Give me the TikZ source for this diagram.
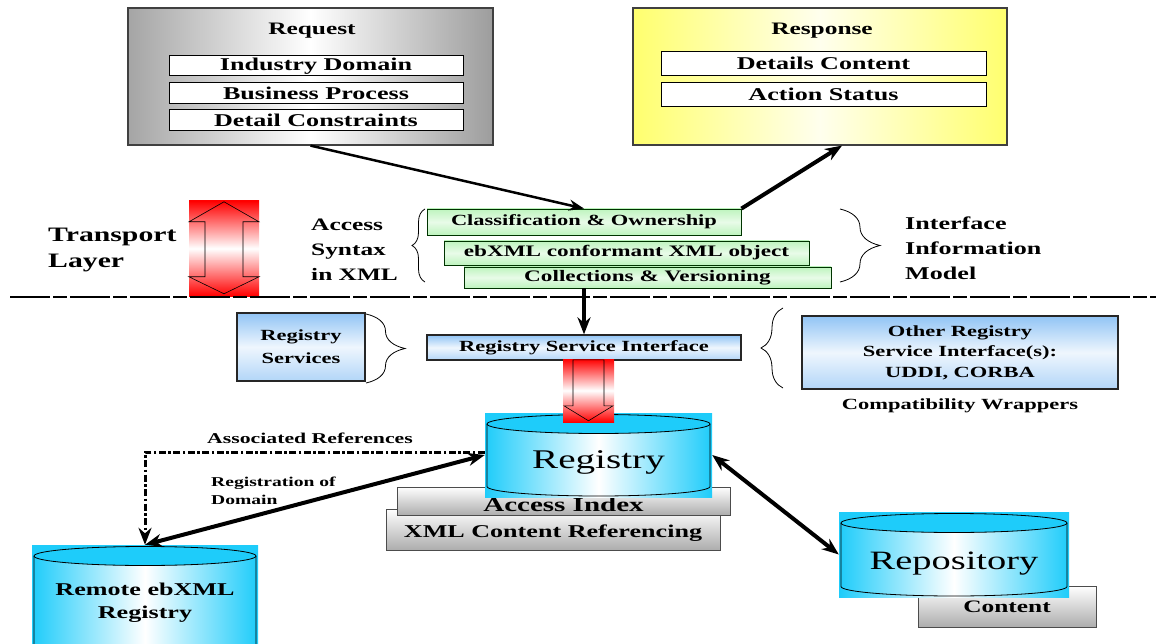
\documentclass[tikz,border=0pt]{standalone}
\usepackage{fontspec}
\setmainfont{Liberation Serif}[FakeStretch=1.45]
\usepackage{tikz}
\usetikzlibrary{positioning}
\usetikzlibrary{calc,arrows.meta,decorations.pathreplacing}
\usepackage{xcolor}
\definecolor{cylblue}{RGB}{30,204,250}
\definecolor{boxblue}{RGB}{145,196,245}
\definecolor{boxgreen}{RGB}{190,244,190}
\definecolor{reqgray}{RGB}{165,165,165}
\definecolor{respyellow}{RGB}{255,255,110}
\newcommand{\bsz}[2]{\fontsize{#1pt}{#2pt}\selectfont\bfseries}

\begin{document}
\begin{tikzpicture}[x=1pt, y=-1pt,
  >={Stealth[length=17pt,width=13pt]},
  every node/.style={inner sep=0pt, align=center},
  bigbox/.style={rectangle, draw=black!75, line width=1.2pt},
  title/.style={font=\bsz{17.5}{20}},
  itembox/.style={rectangle, draw=black, fill=white, line width=1pt,
    minimum width=294pt, font=\bsz{18}{20}},
  greenbox/.style={rectangle, draw=green!20!black, line width=0.9pt,
    top color=boxgreen, bottom color=boxgreen, middle color=boxgreen!35,
    font=\bsz{16}{18}},
  bluebox/.style={rectangle, draw=black!85, line width=1.3pt,
    top color=boxblue, bottom color=boxblue!70, middle color=white!85!boxblue,
    font=\bsz{15.5}{20.5}},
  graybox/.style={rectangle, draw=black!70, line width=1pt,
    top color=white, bottom color=black!32, font=\bsz{18}{20}},
  redbg/.style={rectangle, top color=red, bottom color=red, middle color=white},
  cyl/.style 2 args={rectangle, minimum width=#1, minimum height=#2,
    left color=cylblue, right color=cylblue, middle color=white,
    path picture={
      \fill[cylblue] (path picture bounding box.north west)
        rectangle ([yshift=-11pt]path picture bounding box.north east);
      \filldraw[fill=cylblue, line width=0.8pt]
        ([yshift=-11pt]path picture bounding box.north)
        ellipse [x radius=#1/2-2pt, y radius=9.5pt];
      \draw[line width=0.8pt]
        ([xshift=2pt,yshift=-11pt]path picture bounding box.north west)
        -- ([xshift=2pt,yshift=10.5pt]path picture bounding box.south west)
        arc [start angle=180, end angle=360, x radius=#1/2-2pt, y radius=9.5pt]
        -- ([xshift=-2pt,yshift=-11pt]path picture bounding box.north east);
    }},
  lbl/.style={font=\bsz{15.5}{20}},
  brc/.style={decorate, line width=0.8pt}
  ]
  \useasboundingbox (0,0) rectangle (1156,644);
  \clip (0,0) rectangle (1156,644);

  % request and response
  \node[bigbox, left color=reqgray, right color=reqgray!95!black, middle color=white,
    minimum width=365pt, minimum height=137pt] (req) at (310.5,76.5) {};
  \node[title] (reqt) at (312,31) {Request};
  \node[itembox, minimum height=20pt] (ind) at (316,66) {Industry Domain};
  \node[itembox, minimum height=21pt, below=6pt of ind] (bus) {Business Process};
  \node[itembox, minimum height=21pt, below=5pt of bus] (det) {Detail Constraints};

  \node[bigbox, left color=respyellow, right color=respyellow, middle color=respyellow!12,
    minimum width=374pt, minimum height=137pt] (resp) at (820,76.5) {};
  \node[title] (respt) at (822,31) {Response};
  \node[itembox, minimum width=325pt, minimum height=24pt] (dcon) at (823.5,63.5) {Details Content};
  \node[itembox, minimum width=325pt, minimum height=24pt, below=6pt of dcon] (acts) {Action Status};

  % transport layer
  \node[font=\bsz{20.5}{26}, align=left, anchor=west] (tl) at (48,250) {Transport\\Layer};
  \node[redbg, minimum width=70pt, minimum height=95pt] (tarr) at (224,248.5) {};
  \draw[line width=0.6pt] ([yshift=-1pt]tarr.north) -- ++(-35,20) -- ++(16,0) -- ++(0,55)
    -- ++(-16,0) -- ++(35,17) -- ++(35,-17) -- ++(-16,0) -- ++(0,-55) -- ++(16,0) -- cycle;

  % information model
  \node[font=\bsz{17.5}{25}, align=left, anchor=west] (axs) at (311,250) {Access\\Syntax\\in XML};
  \draw[brc, decoration={brace, amplitude=13pt}] (425,282) -- (425,209);
  \node[greenbox, minimum width=314pt, minimum height=26pt, font=\bsz{15.5}{18}] (cls) at (584,222) {Classification \& Ownership};
  \node[greenbox, minimum width=365pt, minimum height=24pt] (ebx) at (626.5,253) {ebXML conformant XML object};
  \node[greenbox, minimum width=367pt, minimum height=21pt] (col) at (647.5,277.5) {Collections \& Versioning};
  \draw[brc, decoration={brace, amplitude=40pt}] (840,209) -- (840,282);
  \node[font=\bsz{18}{25}, align=left, anchor=west] (iim) at (905,248) {Interface\\Information\\Model};

  \draw[line width=2.8pt, dash pattern=on 40pt off 3pt on 14pt off 3pt] (10,297) -- (1156,297);

  % registry services
  \node[bluebox, minimum width=128pt, minimum height=68pt, font=\bsz{15.5}{23}] (rsv) at (301,347) {Registry\\Services};
  \draw[brc, decoration={brace, amplitude=39pt}] (366,314) -- (366,383);
  \node[bluebox, minimum width=314pt, minimum height=25pt] (rsi) at (584,347.5) {Registry Service Interface};
  \draw[brc, decoration={brace, amplitude=22pt}] (783,388) -- (783,308);
  \node[bluebox, minimum width=316pt, minimum height=73pt] (oth) at (960,352.5) {Other Registry\\Service Interface(s):\\UDDI, CORBA};
  \node[lbl, below=9pt of oth] (cwr) {Compatibility Wrappers};

  % registry and repository
  \node[graybox, minimum width=334pt, minimum height=41pt, text height=15pt, text depth=0pt] (xcr) at (553,529.5) {XML Content Referencing};
  \node[graybox, minimum width=333pt, minimum height=28pt, text height=20pt, text depth=0pt, font=\bsz{20}{22}] (aci) at (563.5,501) {Access Index};
  \node[cyl={227pt}{84pt}, text height=26pt, text depth=0pt, font=\fontsize{27pt}{30pt}\selectfont] (reg) at (598.5,455) {Registry};
  \node[redbg, minimum width=51pt, minimum height=63pt] (rarr) at (588.5,390.5) {};
  \draw[line width=0.6pt] ([xshift=-15.5pt,yshift=-1pt]rarr.north) -- ++(0,46) -- ++(-9,0) -- ++(24.5,15)
    -- ++(24.5,-15) -- ++(-9,0) -- ++(0,-46) -- cycle;

  \node[graybox, minimum width=178pt, minimum height=41pt, font=\bsz{17.5}{20}] (cnt) at (1007,606.5) {Content};
  \node[cyl={230pt}{85pt}, text height=29pt, text depth=0pt, font=\fontsize{26.5pt}{30pt}\selectfont] (rep) at (954,554.5) {Repository};
  \node[cyl={226pt}{115pt}, font=\bsz{18}{23}] (rem) at (145,602.5) {Remote ebXML\\Registry};

  % connectors
  \draw[-{Stealth[length=15pt,width=11pt]}, line width=2.5pt] (req.south) -- (cls.north);
  \draw[->, line width=4pt] (cls.north east) -- ([xshift=22pt]resp.south);
  \draw[->, line width=4pt] (col.south -| rsi.north) -- (rsi.north);
  \draw[<->, line width=4pt] (reg.east) -- (rep.west);
  \draw[->, line width=3pt, dash pattern=on 7pt off 2.5pt on 2.5pt off 2.5pt] ([yshift=3pt]reg.west) -| (rem.north);
  \draw[<->, line width=4pt] (rem.north) -- (reg.west);
  \node[lbl, font=\bsz{15}{18}] (asr) at (310,438) {Associated References};
  \node[font=\bsz{13.5}{18}, align=left, anchor=west] (rgd) at (211,491) {Registration of\\Domain};
\end{tikzpicture}
\end{document}
